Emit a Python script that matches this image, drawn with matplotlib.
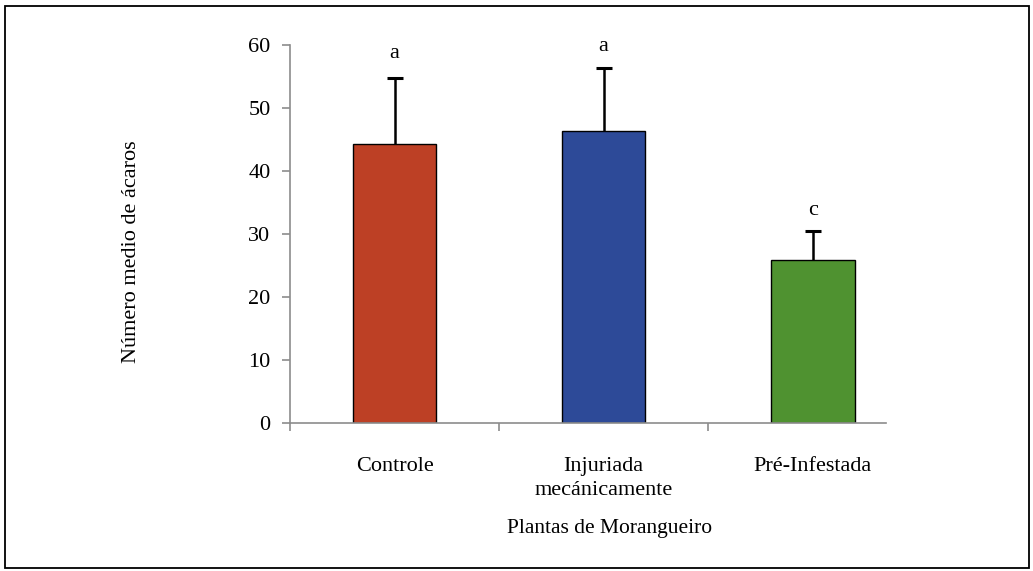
import matplotlib
matplotlib.use("Agg")
import matplotlib.pyplot as plt
from matplotlib.patches import Rectangle

# data
categorias = ["Controle", "Injuriada\nmecánicamente", "Pré-Infestada"]
medias = [44.3, 46.4, 25.9]
erros = [10.4, 10.0, 4.6]
letras = ["a", "a", "c"]
letras_y = [58.6, 59.7, 33.8]
cores = ["#BD4025", "#2D4A98", "#4F9230"]

plt.rcParams['font.family'] = ['Liberation Serif', 'DejaVu Serif']

fig = plt.figure(figsize=(10.33, 5.71), dpi=100)
ax = fig.add_axes([0.2807, 0.2587, 0.8577 - 0.2807, 0.9212 - 0.2587])

x = list(range(len(categorias)))
ax.bar(x, medias, width=0.4, color=cores, edgecolor="black", linewidth=1.0, zorder=2)
# upper-only error bars, no cap at the base
topo = [m + e for m, e in zip(medias, erros)]
ax.vlines(x, medias, topo, color="black", linewidth=1.8, zorder=3)
ax.plot(x, topo, linestyle="none", marker="_", markersize=11, markeredgewidth=2.2,
        color="black", zorder=3)
for xi, l, ly in zip(x, letras, letras_y):
    ax.text(xi, ly, l, ha="center", va="center", fontsize=16)

ax.set_xlim(-0.5, 2.35)
ax.set_ylim(0, 60)
ax.set_yticks(range(0, 61, 10))
ax.set_xticks([-0.5, 0.5, 1.5])
ax.set_xticklabels([])
for s in ["top", "right"]:
    ax.spines[s].set_visible(False)
for s in ["left", "bottom"]:
    ax.spines[s].set_color("#8c8c8c")
    ax.spines[s].set_linewidth(1.2)
ax.tick_params(axis="both", direction="out", length=6, width=1.2, color="#8c8c8c",
               labelsize=16, pad=8)

# category labels
for xi, c in zip(x, categorias):
    ax.text(xi, -5.3, c, ha="center", va="top", fontsize=16, linespacing=1.35,
            transform=ax.transData, clip_on=False)

fig.text(610 / 1033, 1 - 529 / 571, "Plantas de Morangueiro", ha="center", va="center", fontsize=15.5)
fig.text(131 / 1033, 1 - 252 / 571, "Número medio de ácaros", ha="center", va="center",
         rotation=90, fontsize=16)

# outer border
fig.patches.append(Rectangle((4.5 / 1033, 3.5 / 571), 1 - 9 / 1033, 1 - 9 / 571,
                             transform=fig.transFigure, fill=False, edgecolor="black",
                             linewidth=1.3))

fig.savefig("out.png", dpi=100)
